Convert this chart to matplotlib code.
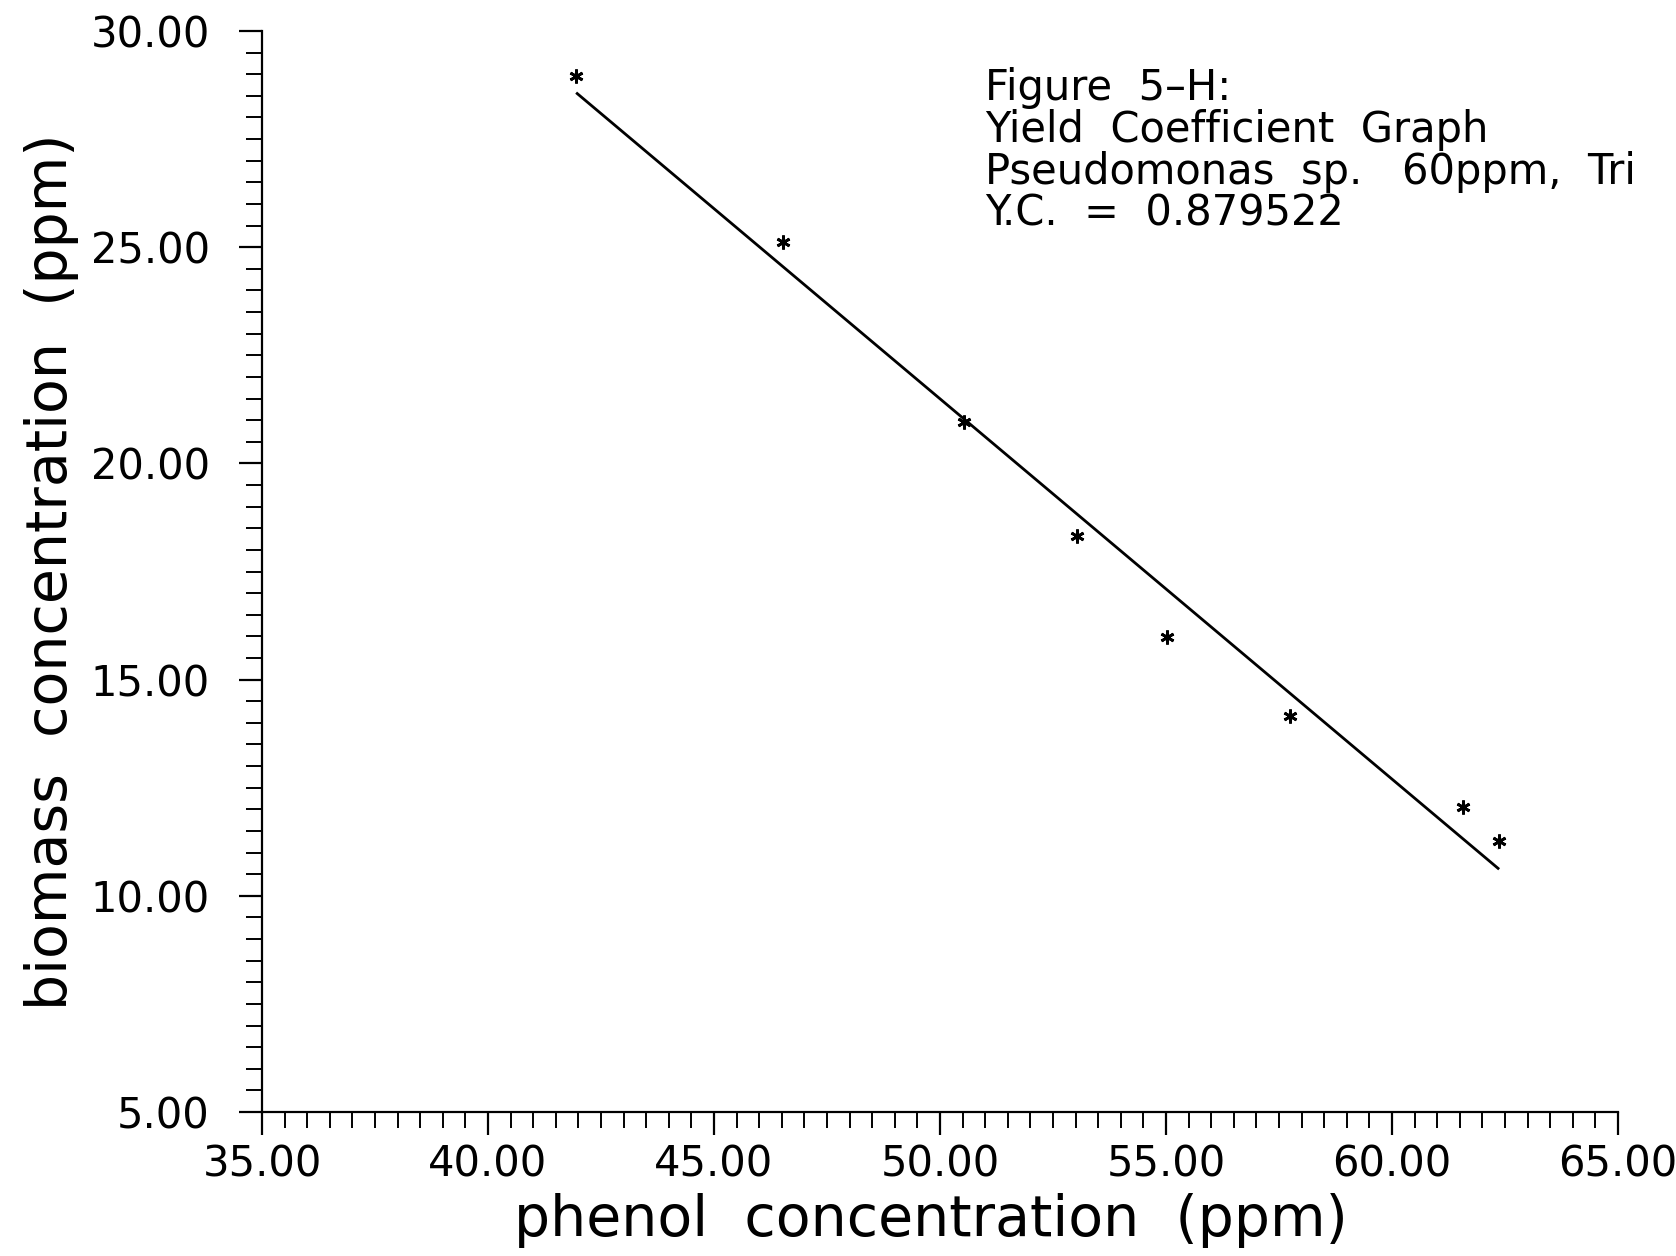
import numpy as np
import matplotlib
matplotlib.use("Agg")
import matplotlib.pyplot as plt
from matplotlib.ticker import MultipleLocator, FormatStrFormatter

# phenol vs biomass readings (ppm)
phenol = [41.95, 46.53, 50.54, 53.04, 55.03, 57.75, 61.57, 62.37]
biomass = [28.96, 25.12, 20.95, 18.31, 15.98, 14.15, 12.05, 11.27]

# fitted line, slope is minus the yield coefficient
yield_coef = 0.879522
fit_intercept = 65.47

notes = [
    "Figure  5\u2013H:",
    "Yield  Coefficient  Graph",
    "Pseudomonas  sp.   60ppm,  Tri",
    "Y.C.  =  0.879522",
]

W, H = 1676, 1256
fig = plt.figure(figsize=(W / 100, H / 100), dpi=100)
ax = fig.add_axes([262 / W, 1 - 1112 / H, (1618 - 262) / W, (1112 - 31) / H])

xs = np.array([min(phenol), max(phenol)])
ax.plot(xs, fit_intercept - yield_coef * xs, color='black', lw=2.0, solid_capstyle='butt')
ax.plot(phenol, biomass, linestyle='none', marker=(6, 2, 0), ms=10, mew=2.0, color='black')

ax.set_xlim(35, 65)
ax.set_ylim(5, 30)
ax.xaxis.set_major_locator(MultipleLocator(5))
ax.xaxis.set_minor_locator(MultipleLocator(0.5))
ax.yaxis.set_major_locator(MultipleLocator(5))
ax.yaxis.set_minor_locator(MultipleLocator(0.5))
ax.xaxis.set_major_formatter(FormatStrFormatter('%.2f'))
ax.yaxis.set_major_formatter(FormatStrFormatter('%.2f'))

for s in ['top', 'right']:
    ax.spines[s].set_visible(False)
for s in ['left', 'bottom']:
    ax.spines[s].set_linewidth(1.6)

ax.tick_params(axis='both', which='major', direction='out', length=16.5, width=1.6, labelsize=30)
ax.tick_params(axis='both', which='minor', direction='out', length=11.5, width=1.4)
ax.tick_params(axis='x', which='major', pad=6)
ax.tick_params(axis='y', which='major', pad=21)

fig.text(931 / W, 1 - 1221 / H, "phenol  concentration  (ppm)", fontsize=41,
         ha='center', va='center')
fig.text(52 / W, 1 - 572 / H, "biomass  concentration  (ppm)", fontsize=41,
         ha='center', va='center', rotation=90)

for i, line in enumerate(notes):
    fig.text(985 / W, 1 - (100 + 42 * i) / H, line, fontsize=30, ha='left', va='baseline')

fig.savefig("out.png", dpi=100)
